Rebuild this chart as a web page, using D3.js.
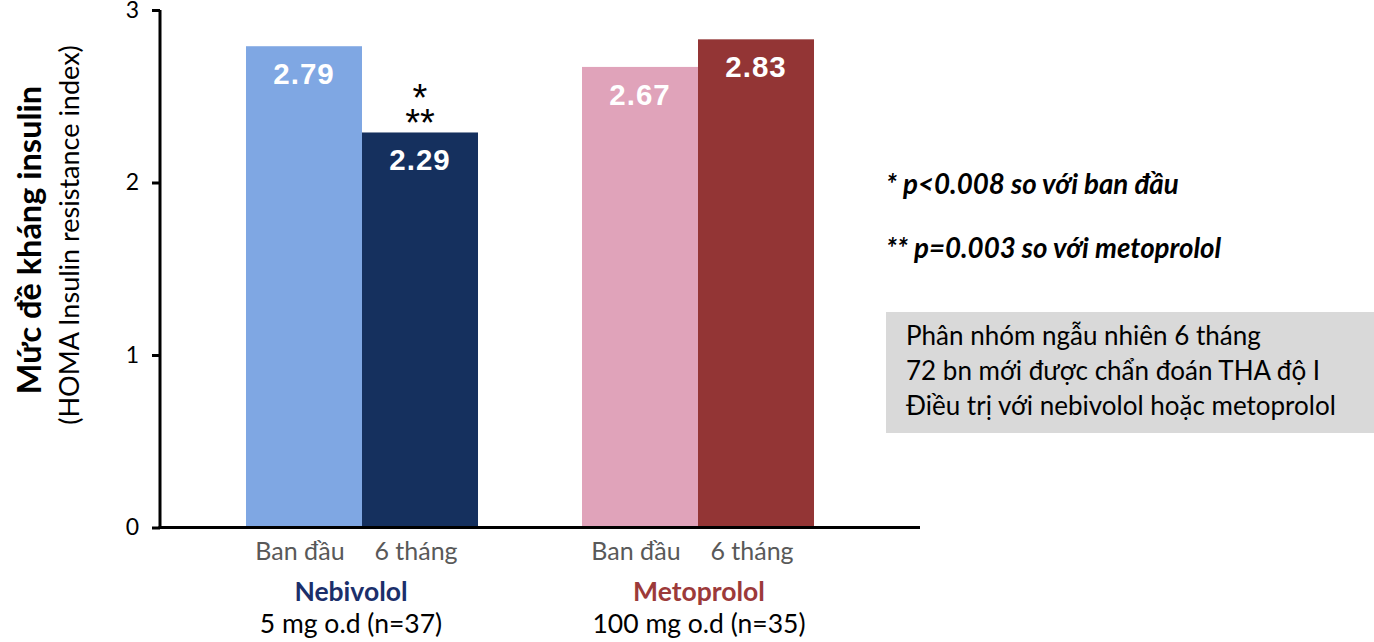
<!DOCTYPE html>
<html>
<head>
<meta charset="utf-8">
<script src="https://cdn.jsdelivr.net/npm/d3@7/dist/d3.min.js"></script>
<style>
  html, body { margin: 0; padding: 0; background: #fff; }
  svg { display: block; }
</style>
</head>
<body>
<svg id="chart" width="1374" height="642"></svg>
<script>
// HOMA insulin resistance index, baseline vs 6 months, per drug group
const groups = ["Nebivolol", "Metoprolol"];
const groupDoses = ["5 mg o.d (n=37)", "100 mg o.d (n=35)"];
const timepoints = ["Ban đầu", "6 tháng"];
const nebivololValues = [2.79, 2.29];
const metoprololValues = [2.67, 2.83];
const yTicks = [0, 1, 2, 3];
const barColors = [["#7fa7e3", "#15305e"], ["#e0a3ba", "#933535"]];
const groupColors = ["#1b2f6b", "#9c3a3a"];
const footnotes = ["* p<0.008 so với ban đầu", "** p=0.003 so với metoprolol"];
const boxLines = ["Phân nhóm ngẫu nhiên 6 tháng", "72 bn mới được chẩn đoán THA độ I", "Điều trị với nebivolol hoặc metoprolol"];

const seriesByGroup = [nebivololValues, metoprololValues];
const bars = [];
groups.forEach((g, gi) => timepoints.forEach((t, ti) => bars.push({ group: g, gi, time: t, ti, value: seriesByGroup[gi][ti] })));

const svg = d3.select("#chart");
const font = "'Lato', 'Liberation Sans', sans-serif";
const boldNum = "'Liberation Sans', Arial, sans-serif";

const y = d3.scaleLinear().domain([0, 3]).range([527.5, 10]);
const x0 = d3.scaleBand().domain(groups).range([150, 910]).paddingInner(0.3095).paddingOuter(0.2857);
const x1 = d3.scaleBand().domain(timepoints).range([0, x0.bandwidth()]).padding(0);
const barCenter = d => x0(d.group) + x1(d.time) + x1.bandwidth() / 2;
const groupLabelShift = [-11, 1];

// bars
svg.append("g").selectAll("rect").data(bars).join("rect")
  .attr("x", d => x0(d.group) + x1(d.time))
  .attr("y", d => y(d.value))
  .attr("width", x1.bandwidth())
  .attr("height", d => y(0) - y(d.value))
  .attr("fill", d => barColors[d.gi][d.ti]);

// value labels inside the bars
svg.append("g").selectAll("text").data(bars).join("text")
  .attr("x", barCenter)
  .attr("y", d => y(d.value) + 38)
  .attr("text-anchor", "middle")
  .attr("fill", "#fff")
  .attr("font-family", boldNum)
  .attr("font-weight", "bold")
  .attr("font-size", 29.5)
  .attr("letter-spacing", 1)
  .text(d => d.value.toFixed(2));

// significance markers above the Nebivolol 6-month bar
const sigBar = bars[1];
const sig = svg.append("text")
  .attr("text-anchor", "middle").attr("font-family", boldNum)
  .attr("font-size", 38).attr("fill", "#000");
sig.append("tspan").attr("x", barCenter(sigBar)).attr("y", y(sigBar.value) - 21).text("*");
sig.append("tspan").attr("x", barCenter(sigBar)).attr("y", y(sigBar.value) + 4).text("**");

// y axis
const yAxis = svg.append("g").attr("transform", "translate(160,0)")
  .call(d3.axisLeft(y).tickValues(yTicks).tickSize(8).tickFormat(d3.format("d")));
yAxis.select(".domain").attr("stroke", "#000").attr("stroke-width", 3).attr("d", `M0,${y(3)}V${y(0)}`);
yAxis.selectAll(".tick line").attr("stroke", "#000").attr("stroke-width", 3);
yAxis.selectAll(".tick text").attr("font-family", font).attr("font-size", 23).attr("fill", "#000").attr("x", -21);

// x axis baseline
svg.append("line").attr("x1", 158.5).attr("x2", 920).attr("y1", y(0)).attr("y2", y(0))
  .attr("stroke", "#000").attr("stroke-width", 3);

// timepoint labels
svg.append("g").selectAll("text").data(bars).join("text")
  .attr("x", d => barCenter(d) - 4)
  .attr("y", 560)
  .attr("text-anchor", "middle")
  .attr("font-family", font).attr("font-size", 25).attr("fill", "#595959")
  .text(d => d.time);

// group names and doses
svg.append("g").selectAll("text").data(groups).join("text")
  .attr("x", (g, i) => x0(g) + x0.bandwidth() / 2 + groupLabelShift[i])
  .attr("y", 601)
  .attr("text-anchor", "middle")
  .attr("font-family", font).attr("font-weight", "bold").attr("font-size", 26.5)
  .attr("fill", (g, i) => groupColors[i])
  .text(g => g);
svg.append("g").selectAll("text").data(groupDoses).join("text")
  .attr("x", (d, i) => x0(groups[i]) + x0.bandwidth() / 2 + groupLabelShift[i])
  .attr("y", 633)
  .attr("text-anchor", "middle")
  .attr("font-family", font).attr("font-size", 26.5).attr("fill", "#000")
  .text(d => d);

// y axis titles
svg.append("text").attr("transform", "translate(41,240) rotate(-90)")
  .attr("text-anchor", "middle").attr("font-family", font).attr("font-weight", "bold")
  .attr("font-size", 32.5).attr("fill", "#000").text("Mức đề kháng insulin");
svg.append("text").attr("transform", "translate(79,235) rotate(-90)")
  .attr("text-anchor", "middle").attr("font-family", font)
  .attr("font-size", 27).attr("fill", "#000").text("(HOMA Insulin resistance index)");

// footnotes
svg.append("g").selectAll("text").data(footnotes).join("text")
  .attr("x", 886).attr("y", (d, i) => 194 + i * 64)
  .attr("font-family", font).attr("font-weight", "bold").attr("font-style", "italic")
  .attr("font-size", 27.7).attr("fill", "#000").text(d => d);

// study description box
svg.append("rect").attr("x", 886).attr("y", 312).attr("width", 488).attr("height", 121).attr("fill", "#d9d9d9");
svg.append("g").selectAll("text").data(boxLines).join("text")
  .attr("x", 906).attr("y", (d, i) => 345 + i * 35)
  .attr("font-family", font).attr("font-size", 26).attr("fill", "#000").text(d => d);
</script>
</body>
</html>
